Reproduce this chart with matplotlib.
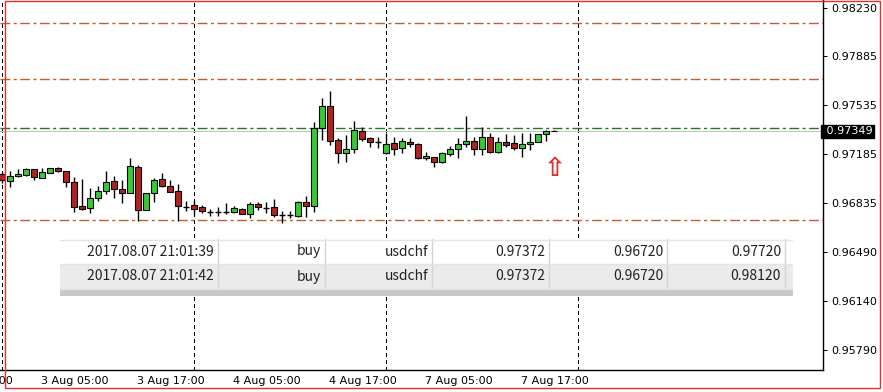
# USDCHF H1 chart with two buy orders (MT4 style screenshot)

import pandas as pd
import matplotlib.pyplot as plt
from matplotlib.patches import Rectangle

plt.rcParams['lines.scale_dashes'] = False
plt.rcParams['font.family'] = ['DejaVu Sans']

# Hourly bars, the weekend is skipped like in the terminal
bar_times = list(pd.date_range("2017-08-03 00:00", "2017-08-04 23:00", freq="h")) + \
    list(pd.date_range("2017-08-07 00:00", "2017-08-07 21:00", freq="h"))

opens = [0.97045, 0.96997, 0.97029, 0.97040, 0.97078, 0.97019, 0.97050, 0.97086, 0.97064, 0.96988,
         0.96815, 0.96801, 0.96876, 0.96922, 0.96995, 0.96936, 0.96912, 0.97095, 0.96787, 0.96908,
         0.97007, 0.96960, 0.96922, 0.96812, 0.96822, 0.96808, 0.96775, 0.96775, 0.96777, 0.96777,
         0.96794, 0.96762, 0.96831, 0.96805, 0.96808, 0.96753, 0.96755, 0.96746, 0.96848, 0.96819,
         0.97370, 0.97529, 0.97287, 0.97197, 0.97221, 0.97351, 0.97304, 0.97275, 0.97192, 0.97264,
         0.97228, 0.97273, 0.97259, 0.97157, 0.97168, 0.97128, 0.97185, 0.97221, 0.97256, 0.97282,
         0.97221, 0.97306, 0.97204, 0.97271, 0.97264, 0.97228, 0.97256, 0.97275, 0.97330, 0.97353]

highs = [0.97059, 0.97068, 0.97081, 0.97086, 0.97081, 0.97086, 0.97090, 0.97095, 0.97064, 0.97026,
         0.97007, 0.96943, 0.96960, 0.97066, 0.97031, 0.97002, 0.97157, 0.97109, 0.96908, 0.97014,
         0.97054, 0.97002, 0.96974, 0.96853, 0.96860, 0.96824, 0.96794, 0.96808, 0.96836, 0.96817,
         0.96801, 0.96848, 0.96846, 0.96846, 0.96865, 0.96784, 0.96782, 0.96853, 0.96888, 0.97413,
         0.97588, 0.97636, 0.97304, 0.97323, 0.97422, 0.97378, 0.97308, 0.97306, 0.97335, 0.97306,
         0.97299, 0.97299, 0.97264, 0.97204, 0.97168, 0.97200, 0.97244, 0.97299, 0.97458, 0.97311,
         0.97382, 0.97339, 0.97311, 0.97328, 0.97323, 0.97339, 0.97335, 0.97328, 0.97358, 0.97356]

lows = [0.96981, 0.96952, 0.97022, 0.97033, 0.97004, 0.97014, 0.97050, 0.97061, 0.96955, 0.96777,
        0.96791, 0.96770, 0.96855, 0.96900, 0.96872, 0.96836, 0.96908, 0.96710, 0.96787, 0.96848,
        0.96955, 0.96915, 0.96713, 0.96784, 0.96751, 0.96770, 0.96748, 0.96746, 0.96758, 0.96765,
        0.96758, 0.96730, 0.96789, 0.96765, 0.96741, 0.96698, 0.96730, 0.96737, 0.96741, 0.96777,
        0.97287, 0.97252, 0.97126, 0.97133, 0.97197, 0.97282, 0.97239, 0.97232, 0.97185, 0.97180,
        0.97192, 0.97237, 0.97152, 0.97145, 0.97097, 0.97126, 0.97175, 0.97161, 0.97239, 0.97180,
        0.97180, 0.97192, 0.97192, 0.97239, 0.97216, 0.97168, 0.97216, 0.97275, 0.97282, 0.97348]

closes = [0.97002, 0.97031, 0.97045, 0.97081, 0.97026, 0.97059, 0.97086, 0.97064, 0.96986, 0.96812,
          0.96798, 0.96872, 0.96924, 0.96986, 0.96936, 0.96912, 0.97102, 0.96789, 0.96908, 0.97002,
          0.96962, 0.96919, 0.96815, 0.96812, 0.96798, 0.96779, 0.96775, 0.96775, 0.96777, 0.96801,
          0.96762, 0.96831, 0.96808, 0.96805, 0.96753, 0.96753, 0.96755, 0.96848, 0.96819, 0.97370,
          0.97529, 0.97282, 0.97197, 0.97223, 0.97358, 0.97296, 0.97271, 0.97275, 0.97256, 0.97221,
          0.97280, 0.97256, 0.97157, 0.97173, 0.97128, 0.97197, 0.97221, 0.97259, 0.97278, 0.97221,
          0.97306, 0.97204, 0.97271, 0.97254, 0.97232, 0.97259, 0.97275, 0.97328, 0.97353, 0.97349]

# Price scale and time scale labels
price_ticks = [0.98230, 0.97885, 0.97535, 0.97185, 0.96835, 0.96490, 0.96140, 0.95790]
time_labels = ["2017-08-02 17:00", "2017-08-03 05:00", "2017-08-03 17:00", "2017-08-04 05:00",
               "2017-08-04 17:00", "2017-08-07 05:00", "2017-08-07 17:00"]
day_lines = ["2017-08-03 00:00", "2017-08-04 00:00", "2017-08-07 00:00", "2017-08-08 00:00"]

# Order levels
take_profits = [0.98120, 0.97720]
stop_loss = 0.96720
open_price = 0.97372
bid = 0.97349
order_time = "2017-08-07 21:00"

# Trade panel
order_rows = [["2017.08.07 21:01:39", "buy", "usdchf", "0.97372", "0.96720", "0.97720"],
              ["2017.08.07 21:01:42", "buy", "usdchf", "0.97372", "0.96720", "0.98120"]]


# Position of a time on the bar axis (hours outside the data are counted on)
def bar_pos(t):
    t = pd.Timestamp(t)
    if t in bar_times:
        return bar_times.index(t)
    if t < bar_times[0]:
        return (t - bar_times[0]) / pd.Timedelta(hours=1)
    return len(bar_times) - 1 + (t - bar_times[-1]) / pd.Timedelta(hours=1)


def main():
    W, H = 883, 392
    fig = plt.figure(figsize=(W / 100, H / 100), dpi=100)
    ax = fig.add_axes([0, (H - 370) / H, 823 / W, 370 / H])
    ax.set_xlim(-0.25, 102.625)
    ax.set_ylim(0.956495, 0.982839)

    px = 0.72  # one pixel in points
    dashdot = (0, (7, 2.5, 2.2, 2.5))

    # Day separators
    for t in day_lines:
        ax.axvline(bar_pos(t), color="black", lw=px, linestyle=(0, (2.2, 2.2)),
                   antialiased=False, zorder=1)

    # Stop loss / take profit / open price / bid
    for lvl in take_profits + [stop_loss]:
        ax.axhline(lvl, color="#c0602a", lw=1.0, linestyle=dashdot, zorder=1)
    ax.axhline(open_price, color="#1f7a1f", lw=1.0, linestyle=dashdot, zorder=1)
    ax.axhline(bid, color="#c0c0c0", lw=px, antialiased=False, zorder=1)

    # Candles
    for i, (o, h, l, c) in enumerate(zip(opens, highs, lows, closes)):
        ax.vlines(i, l, h, color="black", lw=1, zorder=2)
        if o == c:
            ax.hlines(o, i - 0.38, i + 0.38, color="black", lw=1, zorder=3)
        else:
            col = "#33cc33" if c > o else "#b22222"
            ax.bar(i, abs(c - o), bottom=min(o, c), width=0.68, color=col,
                   edgecolor="black", linewidth=0.8, zorder=3)

    # Buy arrow under the last bar
    ax.text(bar_pos(order_time), lows[-1] - 0.0027, "\u21e7", color="#e03030",
            fontsize=19, fontweight="bold", ha="center", va="center", zorder=4)

    # Axes look
    for s in ["top", "left"]:
        ax.spines[s].set_visible(False)
    for s in ["right", "bottom"]:
        ax.spines[s].set_linewidth(1)
    ax.set_xticks([])
    ax.yaxis.tick_right()
    ax.set_yticks(price_ticks)
    ax.set_yticklabels(["%.5f" % p for p in price_ticks])
    ax.tick_params(axis="y", length=3, width=px, labelsize=8, pad=3)

    # Time labels start at their bar
    for t in time_labels:
        ts = pd.Timestamp(t)
        ax.text(bar_pos(t) - 0.15, -11 / 370, "%d %s %s" % (ts.day, ts.strftime("%b"), ts.strftime("%H:%M")),
                transform=ax.get_xaxis_transform(), ha="left", va="center", fontsize=8)

    # Current price box
    ax.text(1.0, bid, " %.5f" % bid, transform=ax.get_yaxis_transform(), ha="left", va="center",
            fontsize=8, color="white",
            bbox=dict(boxstyle="square,pad=0.15", facecolor="black", edgecolor="black"))

    # Trade panel on top of the chart
    tab = fig.add_axes([60 / W, 1 - 296 / H, (793 - 60) / W, (296 - 239) / H])
    tab.set_xlim(60, 793)
    tab.set_ylim(296, 239)
    tab.axis("off")
    col_edges = [60, 218, 325, 432, 549, 667, 785]
    row_tops = [239, 264]
    row_colors = ["white", "#ebebeb"]
    tab.add_patch(Rectangle((60, 239), 733, 57, facecolor="white", edgecolor="none"))
    for r, row in enumerate(order_rows):
        y0 = row_tops[r]
        tab.add_patch(Rectangle((60, y0), 733, 25, facecolor=row_colors[r], edgecolor="none"))
        for k, txt in enumerate(row):
            tab.text(col_edges[k + 1] - 4, y0 + 12.5, txt, ha="right", va="center",
                     fontsize=10, family=["Noto Sans CJK SC", "DejaVu Sans"], color="#222222")
    tab.add_patch(Rectangle((60, 290), 733, 6, facecolor="#c8c8c8", edgecolor="none"))
    for x in col_edges[1:]:
        tab.plot([x, x], [239, 289], color="#d4d4d4", lw=1)
    for y in [239.5, 264, 289]:
        tab.plot([60, 793], [y, y], color="#e4e4e4", lw=1)

    # Red frame around the screenshot
    fig.patches.append(Rectangle((5 / W, 1 - 388 / H), 875 / W, 387.5 / H, transform=fig.transFigure,
                                 fill=False, edgecolor="#e03030", lw=1))

    fig.savefig("out.png", dpi=100)


if __name__ == "__main__":
    main()
